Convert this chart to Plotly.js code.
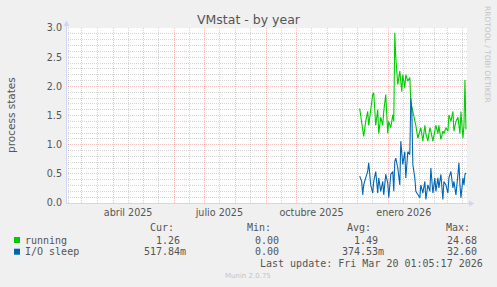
<!DOCTYPE html>
<html>
<head>
<meta charset="utf-8">
<script src="https://cdn.plot.ly/plotly-3.0.1.min.js"></script>
<style>html,body{margin:0;padding:0;background:#F0F0F0;}#chart{width:497px;height:287px;}</style>
</head>
<body>
<div id="chart"></div>
<script>
// ---- data ----
const dates = ['2025-12-03','2025-12-05','2025-12-06','2025-12-07','2025-12-09','2025-12-11','2025-12-12','2025-12-14','2025-12-16','2025-12-17',
'2025-12-19','2025-12-21','2025-12-22','2025-12-24','2025-12-26','2025-12-27','2025-12-29','2025-12-31','2026-01-01','2026-01-03',
'2026-01-05','2026-01-06','2026-01-07','2026-01-08','2026-01-10','2026-01-12','2026-01-13','2026-01-14','2026-01-15','2026-01-17',
'2026-01-18','2026-01-20','2026-01-22','2026-01-23','2026-01-24','2026-01-25','2026-01-27','2026-01-28','2026-01-30','2026-02-01',
'2026-02-02','2026-02-04','2026-02-06','2026-02-07','2026-02-09','2026-02-11','2026-02-12','2026-02-14','2026-02-16','2026-02-17',
'2026-02-19','2026-02-20','2026-02-22','2026-02-24','2026-02-25','2026-02-27','2026-03-01','2026-03-02','2026-03-04','2026-03-06',
'2026-03-07','2026-03-09','2026-03-11','2026-03-12','2026-03-13','2026-03-14','2026-03-16','2026-03-17','2026-03-18','2026-03-19'];
const running = [1.62,1.35,1.31,1.14,1.40,1.57,1.33,1.62,1.86,1.89,
1.33,1.60,1.19,1.47,1.33,1.57,1.86,1.19,1.40,1.29,
1.51,1.40,2.92,2.49,2.03,2.26,2.05,1.91,2.20,1.97,
2.20,2.09,2.15,1.74,1.65,1.57,1.47,1.33,1.11,1.23,
1.29,1.06,1.33,1.19,1.06,1.29,1.23,1.06,1.29,1.33,
1.19,1.33,1.09,1.23,1.19,1.29,1.23,1.51,1.40,1.57,
1.23,1.40,1.47,1.30,1.19,1.57,1.11,1.33,2.11,1.26];
const ioSleep = [0.46,0.37,0.14,0.31,0.43,0.54,0.69,0.31,0.17,0.37,
0.54,0.17,0.43,0.20,0.37,0.14,0.49,0.34,0.09,0.49,
0.54,0.20,0.71,0.77,0.60,0.31,1.06,0.88,0.66,0.88,
0.43,0.88,0.83,1.80,1.60,0.66,0.43,0.20,0.14,0.09,
0.31,0.17,0.37,0.06,0.31,0.20,0.60,0.17,0.43,0.20,
0.43,0.26,0.49,0.06,0.37,0.31,0.17,0.43,0.54,0.26,
0.37,0.14,0.49,0.69,0.31,0.09,0.43,0.31,0.49,0.52];

const seriesNames = ['running', 'I/O sleep'];
const seriesColors = ['#00CC00', '#0066B3'];
const legendCur = ['1.26', '517.84m'];
const legendMin = ['0.00', '0.00'];
const legendAvg = ['1.49', '374.53m'];
const legendMax = ['24.68', '32.60'];
const legendHeaders = ['Cur:', 'Min:', 'Avg:', 'Max:'];
const xLabelDates = ['2025-04-16', '2025-07-16', '2025-10-16', '2026-01-16'];
const xLabels = ['abril 2025', 'julio 2025', 'octubre 2025', 'enero 2026'];
const timeRange = ['2025-02-13 01:05:17', '2026-03-20 01:05:17'];
const yRange = [0, 3.0];
const titleText = 'VMstat - by year';
const yTitle = 'process states';
const lastUpdate = 'Last update: Fri Mar 20 01:05:17 2026';
const watermark = 'RRDTOOL / TOBI OETIKER';
const footer = 'Munin 2.0.75';

// ---- geometry helpers ----
const W = 497, H = 287, L = 66, R = 467, T = 28, B = 203;
const px = x => (x - L) / (R - L);
const py = y => (B - y) / (B - T);
const NB = '\u00a0';
const sfx = s => /[a-zA-Z]$/.test(s) ? s : s + NB;

const fontColor = '#555555';
const mono = 'DejaVu Sans Mono';
const sans = 'DejaVu Sans';

const traces = [
  {x: dates, y: running, type: 'scatter', mode: 'lines', name: seriesNames[0],
   line: {color: seriesColors[0], width: 1.1}, xaxis: 'x', yaxis: 'y', hoverinfo: 'skip'},
  {x: dates, y: ioSleep, type: 'scatter', mode: 'lines', name: seriesNames[1],
   line: {color: seriesColors[1], width: 1.1}, xaxis: 'x', yaxis: 'y', hoverinfo: 'skip'}
];

const majorGrid = 'rgba(230,80,80,0.35)';
const minorGrid = 'rgba(150,150,150,0.4)';
const dash = '1px,1px';

const ann = [];
function text(t, x, y, opts) {
  ann.push(Object.assign({text: t, x: px(x), y: py(y), xref: 'paper', yref: 'paper',
    showarrow: false, borderpad: 0, borderwidth: 0,
    font: {family: mono, size: 10, color: fontColor}, xanchor: 'left', yanchor: 'middle'}, opts || {}));
}
// y title
text(yTitle, 11, 115, {textangle: -90, xanchor: 'center', font: {family: sans, size: 10.5, color: fontColor}});
// legend headers
const colRight = [186.3, 285, 384, 483.4];
const headRight = [173.8, 271.4, 370.7, 470];
legendHeaders.forEach((h, i) => text(h, headRight[i], 227.3, {xanchor: 'right'}));
const rowsY = [240, 251.7];
seriesNames.forEach((n, i) => {
  text(n, 25, rowsY[i]);
  [legendCur, legendMin, legendAvg, legendMax].forEach((col, j) =>
    text(sfx(col[i]), colRight[j], rowsY[i], {xanchor: 'right'}));
});
text(lastUpdate, 483.4, 263.3, {xanchor: 'right'});
text(footer, 248, 275.7, {xanchor: 'center', font: {family: sans, size: 7, color: '#c4c4c4'}});
text(watermark, 488, 54, {xanchor: 'center', textangle: 90, font: {family: sans, size: 7.5, color: '#c4c4c4'}});

const shapes = [];
seriesColors.forEach((c, i) => shapes.push({type: 'rect', xref: 'paper', yref: 'paper',
  x0: px(14), x1: px(20), y0: py(rowsY[i] - 3), y1: py(rowsY[i] + 3),
  fillcolor: c, line: {width: 0}}));
const axisColor = '#CFD6F8';
shapes.push({type: 'line', xref: 'paper', yref: 'paper', x0: px(66.5), x1: px(66.5), y0: py(203.5), y1: py(24), line: {color: axisColor, width: 1}, layer: 'above'});
shapes.push({type: 'line', xref: 'paper', yref: 'paper', x0: px(66), x1: px(471), y0: py(203.5), y1: py(203.5), line: {color: axisColor, width: 1}, layer: 'above'});
shapes.push({type: 'path', xref: 'paper', yref: 'paper',
  path: `M ${px(63.5)} ${py(26)} L ${px(69.5)} ${py(26)} L ${px(66.5)} ${py(20.5)} Z`,
  fillcolor: axisColor, line: {width: 0}, layer: 'above'});
shapes.push({type: 'path', xref: 'paper', yref: 'paper',
  path: `M ${px(469)} ${py(200.5)} L ${px(469)} ${py(206.5)} L ${px(474.5)} ${py(203.5)} Z`,
  fillcolor: axisColor, line: {width: 0}, layer: 'above'});

const layout = {
  width: W, height: H, autosize: false,
  margin: {l: L, r: W - R, t: T, b: H - B, pad: 0},
  paper_bgcolor: '#F0F0F0', plot_bgcolor: '#FFFFFF',
  showlegend: false,
  title: {text: titleText, font: {family: sans, size: 12.5, color: fontColor},
          xref: 'container', x: 0.5, xanchor: 'center', yref: 'container', y: 1 - 20 / H, yanchor: 'middle'},
  xaxis: {type: 'date', range: timeRange, showticklabels: false, ticks: '',
          tickmode: 'linear', tick0: '2025-01-01', dtick: 'M1',
          showgrid: true, gridcolor: majorGrid, griddash: dash, gridwidth: 1,
          zeroline: false, showline: false, fixedrange: true},
  xaxis2: {type: 'date', overlaying: 'x', matches: 'x', range: timeRange, showticklabels: false, ticks: '',
          tickmode: 'linear', tick0: '2025-01-16', dtick: 'M1',
          showgrid: true, gridcolor: minorGrid, griddash: dash, gridwidth: 1,
          zeroline: false, showline: false, side: 'bottom'},
  xaxis3: {type: 'date', overlaying: 'x', matches: 'x', range: timeRange, side: 'bottom',
          tickmode: 'array', tickvals: xLabelDates, ticktext: xLabels, ticks: '',
          ticklabelstandoff: 2,
          showgrid: false, zeroline: false, showline: false,
          tickfont: {family: sans, size: 9.6, color: fontColor}},
  yaxis: {range: yRange, tickmode: 'linear', tick0: 0, dtick: 0.5, tickformat: '.1f',
          showgrid: true, gridcolor: majorGrid, griddash: dash, gridwidth: 1,
          minor: {dtick: 0.1, tick0: 0, showgrid: true, gridcolor: minorGrid, griddash: dash, gridwidth: 1},
          zeroline: false, showline: false, ticks: '', ticklabelstandoff: 3,
          tickfont: {family: sans, size: 9.6, color: fontColor}, fixedrange: true},
  annotations: ann,
  shapes: shapes
};
// dummy traces to activate the overlay axes
traces.push({x: [timeRange[0]], y: [null], xaxis: 'x2', yaxis: 'y', type: 'scatter', mode: 'lines', hoverinfo: 'skip'});
traces.push({x: [timeRange[0]], y: [null], xaxis: 'x3', yaxis: 'y', type: 'scatter', mode: 'lines', hoverinfo: 'skip'});

Plotly.newPlot('chart', traces, layout, {staticPlot: true, displayModeBar: false});
</script>
</body>
</html>
